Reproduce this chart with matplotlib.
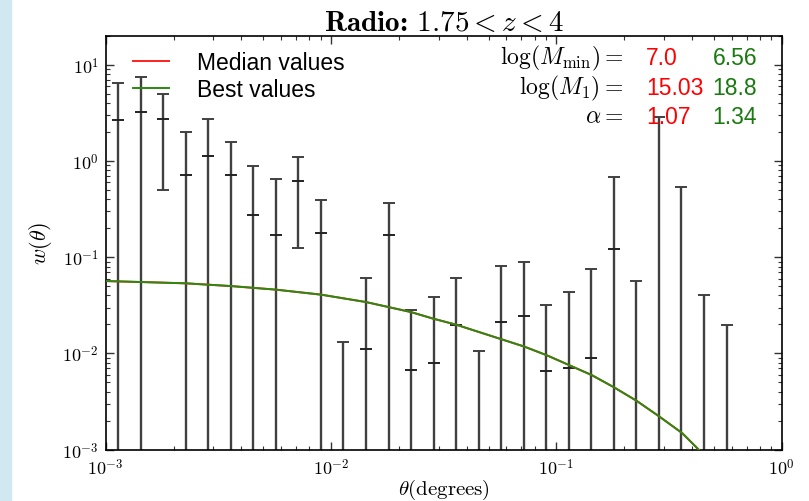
import numpy as np
import matplotlib
matplotlib.use('Agg')
import matplotlib.pyplot as plt
from matplotlib.patches import Rectangle
from matplotlib.ticker import LogLocator, FuncFormatter, NullFormatter

plt.rcParams['mathtext.fontset'] = 'cm'
plt.rcParams['font.family'] = ['Liberation Sans', 'DejaVu Sans']

# ---- data ----
theta = [0.001135, 0.001429, 0.001799, 0.002265, 0.002851, 0.003589, 0.004519,
         0.005689, 0.007161, 0.009016, 0.01135, 0.01429, 0.01799, 0.02265,
         0.02851, 0.03589, 0.04519, 0.05689, 0.07161, 0.09016, 0.1135, 0.1429,
         0.1799, 0.2265, 0.2851, 0.3589, 0.4519, 0.5689]
nan = float('nan')
w_value = [2.64, 3.23, 2.73, 0.706, 1.13, 0.711, 0.276, 0.171, 0.622, 0.177,
           nan, 0.0112, 0.172, 0.00675, 0.00797, 0.0198, nan, 0.0211, 0.0243,
           0.00662, 0.00702, 0.00898, 0.121, nan, nan, nan, nan, nan]
w_upper = [6.46, 7.45, 5.0, 2.0, 2.73, 1.59, 0.895, 0.656, 1.10, 0.393,
           0.0132, 0.0603, 0.368, 0.0281, 0.0385, 0.0614, 0.0106, 0.0803,
           0.0883, 0.0318, 0.0439, 0.0760, 0.684, 0.0568, 2.89, 0.538,
           0.0408, 0.0198]
# None = lower end of the error bar falls below the plotted range
w_lower = [None, None, 0.50, None, None, None, None, None, 0.124, None,
           None, None, None, None, None, None, None, None, None, None,
           None, None, None, None, None, None, None, None]

curve_theta = [0.001, 0.001435, 0.00227, 0.00360, 0.00570, 0.00904, 0.01429,
               0.02265, 0.02838, 0.0359, 0.0573, 0.0719, 0.0906, 0.1143,
               0.1439, 0.1807, 0.2275, 0.2864, 0.3614, 0.4266, 0.47]
median_w = [0.0565, 0.0552, 0.0535, 0.0501, 0.0460, 0.0408, 0.0342, 0.0269,
            0.0230, 0.0199, 0.0140, 0.0118, 0.00958, 0.00754, 0.00594,
            0.00443, 0.00321, 0.00221, 0.00149, 0.00101, 0.00078]
best_w = [0.0565, 0.0552, 0.0535, 0.0501, 0.0460, 0.0408, 0.0342, 0.0269,
          0.0230, 0.0199, 0.0140, 0.0118, 0.00958, 0.00754, 0.00594,
          0.00443, 0.00321, 0.00221, 0.00149, 0.00101, 0.00078]

param_labels = [r'$\log(M_{\rm min}) =$', r'$\log(M_1) =$', r'$\alpha =$']
median_params = ['7.0', '15.03', '1.07']
best_params = ['6.56', '18.8', '1.34']

title = r'Radio: $1.75 < z < 4$'
xlabel = r'$\theta(\mathrm{degrees})$'
ylabel = r'$w(\theta)$'

# ---- figure ----
W, H = 809, 502
fig = plt.figure(figsize=(W / 100, H / 100), dpi=100)
fig.patch.set_facecolor('white')
fig.patches.append(Rectangle((0, 0), 11 / W, 1, transform=fig.transFigure,
                             color='#cfe8f1', zorder=0))
ax = fig.add_axes([105.7 / W, 1 - 450.7 / H, 676 / W, 414 / H])

ymin, ymax = 1e-3, 20
ax.set_xscale('log')
ax.set_yscale('log')
ax.set_xlim(1e-3, 1)
ax.set_ylim(ymin, ymax)

bar_col = '#404040'
lo = [l if l is not None else ymin for l in w_lower]
ax.vlines(theta, lo, w_upper, color=bar_col, lw=1.7, zorder=2)
ax.plot(theta, w_upper, ls='none', marker='_', ms=8, mew=1.4, color=bar_col, zorder=2)
cap_t = [t for t, l in zip(theta, w_lower) if l is not None]
cap_l = [l for l in w_lower if l is not None]
ax.plot(cap_t, cap_l, ls='none', marker='_', ms=8, mew=1.4, color=bar_col, zorder=2)
ax.plot(theta, w_value, ls='none', marker='_', ms=9, mew=1.4, color='#222222', zorder=2)

ax.plot(curve_theta, median_w, color='#ff2020', lw=1.4, label='Median values', zorder=3)
ax.plot(curve_theta, best_w, color='#2a8a10', lw=1.4, label='Best values', zorder=4)

leg = ax.legend(loc='upper left', bbox_to_anchor=(0.040, 0.962), frameon=False,
                fontsize=16.5, handlelength=1.6, handletextpad=1.2,
                labelspacing=0.15, borderpad=0, borderaxespad=0)

for i, (lab, mv, bv) in enumerate(zip(param_labels, median_params, best_params)):
    yy = 0.947 - i * 0.071
    ax.text(0.766, yy, lab, transform=ax.transAxes, ha='right', va='center',
            fontsize=17, color='black')
    ax.text(0.799, yy, mv, transform=ax.transAxes, ha='left', va='center',
            fontsize=16.5, color='#ff0000')
    ax.text(0.898, yy, bv, transform=ax.transAxes, ha='left', va='center',
            fontsize=16.5, color='#1a7a10')

fmt = FuncFormatter(lambda v, p: r'$10^{%d}$' % int(round(np.log10(v))))
for axis in (ax.xaxis, ax.yaxis):
    axis.set_major_locator(LogLocator(base=10, numticks=10))
    axis.set_minor_locator(LogLocator(base=10, subs=np.arange(2, 10), numticks=10))
    axis.set_major_formatter(fmt)
    axis.set_minor_formatter(NullFormatter())
ax.tick_params(which='both', direction='in', top=True, right=True, labelsize=13,
               color='#333333')
ax.tick_params(which='major', length=6, width=1)
ax.tick_params(which='minor', length=3, width=0.8)
ax.tick_params(axis='x', pad=6)
ax.tick_params(axis='y', pad=5)
for s in ax.spines.values():
    s.set_linewidth(1.2)

ax.set_title(title, fontsize=21, pad=3, fontfamily='cmb10')
ax.set_xlabel(xlabel, fontsize=15, labelpad=-1)
ax.set_ylabel(ylabel, fontsize=16, labelpad=6)

fig.savefig('out.png', dpi=100)
